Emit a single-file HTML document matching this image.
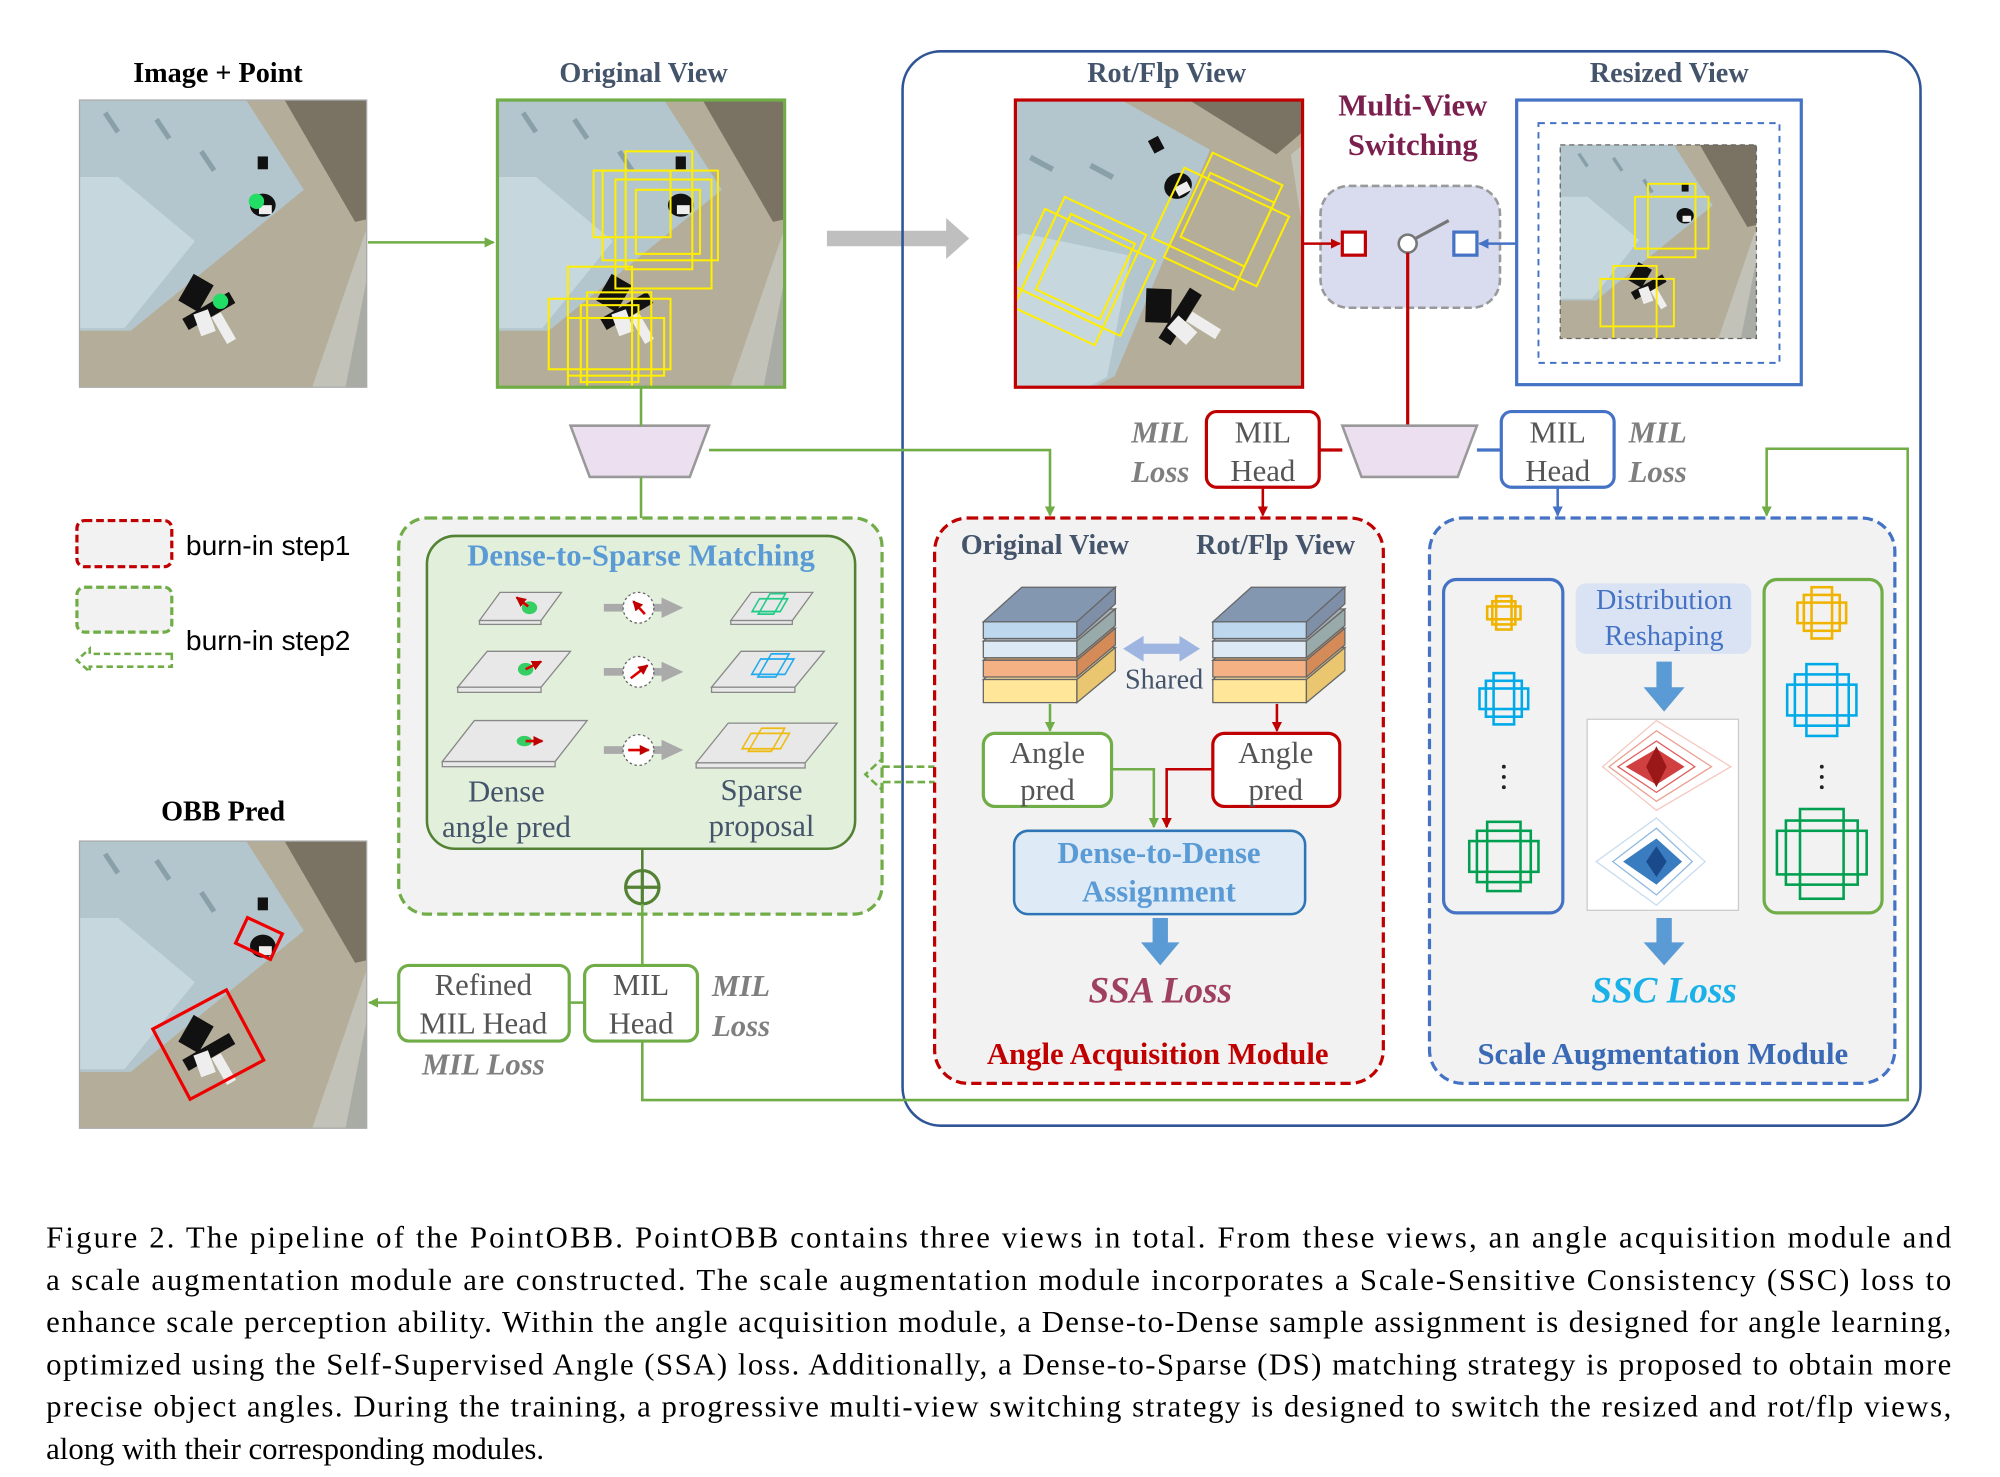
<!DOCTYPE html>
<html><head><meta charset="utf-8"><style>
html,body{margin:0;padding:0;background:#fff;}
svg{display:block;}
text{font-family:"Liberation Serif",serif;}
</style></head><body>
<svg width="2000" height="1477" viewBox="0 0 1560 1152" xmlns="http://www.w3.org/2000/svg">
<defs>
<marker id="ag" markerWidth="8" markerHeight="8" refX="7" refY="4" orient="auto" markerUnits="userSpaceOnUse"><path d="M0,0 L8,4 L0,8 z" fill="#70ad47"/></marker>
<marker id="ar" markerWidth="8" markerHeight="8" refX="7" refY="4" orient="auto" markerUnits="userSpaceOnUse"><path d="M0,0 L8,4 L0,8 z" fill="#c00000"/></marker>
<marker id="ab" markerWidth="8" markerHeight="8" refX="7" refY="4" orient="auto" markerUnits="userSpaceOnUse"><path d="M0,0 L8,4 L0,8 z" fill="#4472c4"/></marker>
<clipPath id="c224"><rect x="0" y="0" width="224" height="224"/></clipPath>
<g id="aer">
<rect x="-150" y="-150" width="524" height="524" fill="#b4ad99"/>
<polygon points="135,-150 374,-150 374,60 215,95 160,0" fill="#7a7363"/>
<polygon points="224,100 374,70 374,374 130,374" fill="#c2c2b8"/>
<polygon points="224,140 374,120 374,374 178,374" fill="#a8aca4"/>
<polygon points="-150,-150 130,-150 130,0 175,70 40,180 -150,180" fill="#b3c6cd"/>
<polygon points="-150,60 30,60 90,110 35,178 -150,178" fill="#c6d8de"/>
<line x1="20" y1="10" x2="30" y2="25" stroke="#8aa0a8" stroke-width="4"/>
<line x1="60" y1="15" x2="70" y2="30" stroke="#8aa0a8" stroke-width="4"/>
<line x1="95" y1="40" x2="105" y2="55" stroke="#8aa0a8" stroke-width="4"/>
<g fill="#111"><ellipse cx="143" cy="82" rx="10" ry="9"/><rect x="139" y="44" width="8" height="10"/><rect x="82" y="138" width="18" height="24" transform="rotate(30 90 150)"/><rect x="80" y="160" width="42" height="10" transform="rotate(-30 100 165)"/></g>
<g fill="#eee"><rect x="140" y="82" width="10" height="7"/><rect x="92" y="165" width="12" height="18" transform="rotate(-20 97 175)"/><rect x="110" y="165" width="8" height="24" transform="rotate(-30 115 180)"/></g>
</g>
</defs>

<!-- Titles -->
<g font-weight="bold" font-size="22" text-anchor="middle">
<text x="170" y="64" fill="#000">Image + Point</text>
<text x="502" y="64" fill="#44546a">Original View</text>
<text x="910" y="64" fill="#44546a">Rot/Flp View</text>
<text x="1302" y="64" fill="#44546a">Resized View</text>
<text x="174" y="640" fill="#000">OBB Pred</text>
</g>

<!-- Image 1 -->
<g transform="translate(62,78)"><g clip-path="url(#c224)"><use href="#aer"/></g>
<circle cx="138" cy="79" r="6" fill="#22dd66"/><circle cx="110" cy="157" r="6" fill="#22dd66"/></g>
<rect x="62" y="78" width="224" height="224" fill="none" stroke="#aaa" stroke-width="1"/>

<!-- Image 2 -->
<g transform="translate(388,78)"><g clip-path="url(#c224)"><use href="#aer"/>
<g fill="none" stroke="#ffee00" stroke-width="1.6">
<rect x="100" y="40" width="52" height="92"/><rect x="82" y="55" width="90" height="70"/><rect x="75" y="55" width="60" height="52"/><rect x="108" y="70" width="50" height="50"/><rect x="92" y="62" width="75" height="85"/>
<rect x="55" y="130" width="50" height="110"/><rect x="40" y="155" width="95" height="55"/><rect x="70" y="150" width="50" height="75"/><rect x="55" y="170" width="75" height="45"/><rect x="65" y="160" width="45" height="60"/>
</g></g></g>
<rect x="388" y="78" width="224" height="224" fill="none" stroke="#70ad47" stroke-width="2.5"/>
<line x1="287" y1="189" x2="385" y2="189" stroke="#70ad47" stroke-width="2" marker-end="url(#ag)"/>

<!-- gray arrow -->
<polygon points="645,180 738,180 738,170 756,186 738,202 738,192 645,192" fill="#bfbfbf"/>

<!-- big blue container -->
<rect x="704" y="40" width="794" height="838" rx="30" fill="none" stroke="#2f5597" stroke-width="2"/>

<!-- Rot/Flp image -->
<svg x="792" y="78" width="224" height="224" viewBox="0 0 224 224"><rect width="224" height="224" fill="#c9c9c4"/>
<g transform="rotate(-28 112 112) scale(1.1) translate(-10,-10)"><use href="#aer"/></g>
<g fill="none" stroke="#ffee00" stroke-width="1.6" transform="rotate(25 112 112)">
<rect x="120" y="30" width="60" height="90"/><rect x="105" y="50" width="90" height="60"/><rect x="125" y="45" width="55" height="55"/>
<rect x="30" y="110" width="70" height="95"/><rect x="20" y="125" width="95" height="65"/><rect x="40" y="120" width="55" height="65"/>
</g></svg>
<rect x="792" y="78" width="224" height="224" fill="none" stroke="#c00000" stroke-width="2.5"/>

<!-- Multi-view switching -->
<text x="1102" y="90" font-size="24" font-weight="bold" fill="#7b1f4e" text-anchor="middle">Multi-View</text>
<text x="1102" y="121" font-size="24" font-weight="bold" fill="#7b1f4e" text-anchor="middle">Switching</text>
<rect x="1030" y="145" width="140" height="95" rx="22" fill="#d9dcef" stroke="#999" stroke-width="2" stroke-dasharray="6,3"/>
<rect x="1047" y="181" width="18" height="18" fill="#fff" stroke="#c00000" stroke-width="2.5"/>
<rect x="1134" y="181" width="18" height="18" fill="#fff" stroke="#4472c4" stroke-width="2.5"/>
<circle cx="1098" cy="190" r="7" fill="#fff" stroke="#777" stroke-width="2"/>
<line x1="1104" y1="186" x2="1130" y2="172" stroke="#777" stroke-width="2.5"/>
<line x1="1017" y1="190" x2="1045" y2="190" stroke="#c00000" stroke-width="2" marker-end="url(#ar)"/>
<line x1="1182" y1="190" x2="1154" y2="190" stroke="#4472c4" stroke-width="2" marker-end="url(#ab)"/>
<line x1="1098" y1="197" x2="1098" y2="332" stroke="#c00000" stroke-width="2.5"/>

<!-- Resized view -->
<rect x="1183" y="78" width="222" height="222" fill="#fff" stroke="#4472c4" stroke-width="2.5"/>
<rect x="1200" y="96" width="188" height="187" fill="none" stroke="#4472c4" stroke-width="1.5" stroke-dasharray="5,4"/>
<svg x="1217" y="113" width="153" height="151" viewBox="0 0 224 224"><use href="#aer"/>
<g fill="none" stroke="#ffee00" stroke-width="2.2"><rect x="100" y="45" width="55" height="85"/><rect x="85" y="60" width="85" height="60"/><rect x="60" y="140" width="50" height="85"/><rect x="45" y="155" width="85" height="55"/></g></svg>
<rect x="1217" y="113" width="153" height="151" fill="none" stroke="#666" stroke-width="1" stroke-dasharray="4,3"/>

<!-- trapezoids -->
<polygon points="445,332 553,332 538,372 460,372" fill="#ece0f0" stroke="#999" stroke-width="2"/>
<polygon points="1047,332 1152,332 1137,372 1062,372" fill="#ece0f0" stroke="#999" stroke-width="2"/>
<line x1="500" y1="302" x2="500" y2="332" stroke="#70ad47" stroke-width="2"/>
<line x1="500" y1="372" x2="500" y2="418" stroke="#70ad47" stroke-width="2"/>
<polyline points="553,351 819,351 819,402" fill="none" stroke="#70ad47" stroke-width="2" marker-end="url(#ag)"/>

<!-- MIL heads top -->
<g font-size="24" text-anchor="middle">
<rect x="941" y="321" width="88" height="59" rx="8" fill="#fff" stroke="#c00000" stroke-width="2.5"/>
<text x="985" y="345" fill="#555">MIL</text><text x="985" y="375" fill="#555">Head</text>
<rect x="1171" y="321" width="88" height="59" rx="8" fill="#fff" stroke="#4472c4" stroke-width="2.5"/>
<text x="1215" y="345" fill="#555">MIL</text><text x="1215" y="375" fill="#555">Head</text>
</g>
<g font-size="24" font-style="italic" font-weight="bold" fill="#7f7f7f" text-anchor="middle">
<text x="905" y="345">MIL</text><text x="905" y="376">Loss</text>
<text x="1293" y="345">MIL</text><text x="1293" y="376">Loss</text>
<text x="578" y="777">MIL</text><text x="578" y="808">Loss</text>
<text x="377" y="838">MIL Loss</text>
</g>
<line x1="1029" y1="351" x2="1047" y2="351" stroke="#c00000" stroke-width="2.5"/>
<line x1="1152" y1="351" x2="1171" y2="351" stroke="#4472c4" stroke-width="2.5"/>
<line x1="985" y1="380" x2="985" y2="402" stroke="#c00000" stroke-width="2" marker-end="url(#ar)"/>
<line x1="1215" y1="380" x2="1215" y2="402" stroke="#4472c4" stroke-width="2" marker-end="url(#ab)"/>

<!-- long green feedback path -->
<polyline points="501,812 501,858 1488,858 1488,350 1378,350 1378,402" fill="none" stroke="#70ad47" stroke-width="2" marker-end="url(#ag)"/>

<!-- Legend -->
<rect x="60" y="406" width="74" height="36" rx="6" fill="#f2f2f2" stroke="#c00000" stroke-width="2.5" stroke-dasharray="6,3"/>
<rect x="60" y="458" width="74" height="35" rx="6" fill="#f2f2f2" stroke="#70ad47" stroke-width="2.5" stroke-dasharray="6,3"/>
<path d="M134,510 L70,510 L70,506 L60,515 L70,524 L70,520 L134,520 Z" fill="none" stroke="#70ad47" stroke-width="2" stroke-dasharray="5,3"/>
<text x="145" y="433" font-size="22" fill="#000" style="font-family:'Liberation Sans',sans-serif">burn-in step1</text>
<text x="145" y="507" font-size="22" fill="#000" style="font-family:'Liberation Sans',sans-serif">burn-in step2</text>

<!-- DSM -->
<rect x="311" y="404" width="377" height="309" rx="22" fill="#f2f2f2" stroke="#70ad47" stroke-width="2.5" stroke-dasharray="8,4"/>
<rect x="333" y="418" width="334" height="244" rx="22" fill="#e2efda" stroke="#548235" stroke-width="2"/>
<text x="500" y="441" font-size="24" font-weight="bold" fill="#5b9bd5" text-anchor="middle">Dense-to-Sparse Matching</text>
<g fill="#e8e8e8" stroke="#888" stroke-width="1">
<polygon points="374,484 390,462 438,462 422,484"/><rect x="374" y="484" width="48" height="3"/>
<polygon points="357,536 380,508 445,508 422,536"/><rect x="357" y="536" width="65" height="4"/>
<polygon points="345,594 370,562 458,562 433,594"/><rect x="345" y="594" width="88" height="4"/>
<polygon points="570,484 586,462 634,462 618,484"/><rect x="570" y="484" width="48" height="3"/>
<polygon points="555,536 578,508 643,508 620,536"/><rect x="555" y="536" width="65" height="4"/>
<polygon points="543,595 568,564 653,564 628,595"/><rect x="543" y="595" width="85" height="4"/>
</g>
<g fill="#22cc55" opacity="0.9"><ellipse cx="413" cy="474" rx="6" ry="5"/><ellipse cx="410" cy="522" rx="6" ry="5"/><ellipse cx="409" cy="578" rx="6" ry="4"/></g>
<g stroke="#d00" stroke-width="2" marker-end="url(#ar)"><line x1="412" y1="473" x2="403" y2="466"/><line x1="410" y1="522" x2="422" y2="516"/><line x1="410" y1="578" x2="423" y2="578"/></g>
<g fill="none" stroke-width="1.4">
<g stroke="#22cc88"><rect x="592" y="467" width="22" height="10" transform="skewX(-30) translate(270,0)"/><rect x="598" y="463" width="12" height="16" transform="skewX(-30) translate(270,0)"/></g>
<g stroke="#22aaee"><rect x="588" y="514" width="26" height="12" transform="skewX(-30) translate(302,0)"/><rect x="594" y="510" width="14" height="18" transform="skewX(-30) translate(302,0)"/></g>
<g stroke="#eebb11"><rect x="580" y="572" width="30" height="12" transform="skewX(-30) translate(336,0)"/><rect x="586" y="568" width="18" height="18" transform="skewX(-30) translate(336,0)"/></g>
</g>
<g>
<g fill="#aaa"><rect x="471" y="471" width="45" height="6"/><polygon points="516,466 533,474 516,482"/>
<rect x="471" y="521" width="45" height="6"/><polygon points="516,516 533,524 516,532"/>
<rect x="471" y="582" width="45" height="6"/><polygon points="516,577 533,585 516,593"/></g>
<g fill="#fff" stroke="#666" stroke-width="1" stroke-dasharray="2,2"><circle cx="498" cy="474" r="12"/><circle cx="498" cy="524" r="12"/><circle cx="498" cy="585" r="12"/></g>
<g stroke="#d00" stroke-width="2" marker-end="url(#ar)"><line x1="503" y1="479" x2="494" y2="469"/><line x1="492" y1="529" x2="505" y2="519"/><line x1="490" y1="585" x2="506" y2="585"/></g>
</g>
<g font-size="24" fill="#44546a" text-anchor="middle">
<text x="395" y="625">Dense</text><text x="395" y="653">angle pred</text>
<text x="594" y="624">Sparse</text><text x="594" y="652">proposal</text>
</g>
<line x1="501" y1="662" x2="501" y2="679" stroke="#548235" stroke-width="2"/>
<circle cx="501" cy="692" r="13" fill="none" stroke="#548235" stroke-width="2.5"/>
<line x1="488" y1="692" x2="514" y2="692" stroke="#548235" stroke-width="2.5"/><line x1="501" y1="679" x2="501" y2="705" stroke="#548235" stroke-width="2.5"/>
<line x1="501" y1="705" x2="501" y2="753" stroke="#70ad47" stroke-width="2"/>
<path d="M757,598 L688,598 L688,592 L675,604 L688,616 L688,610 L757,610 Z" fill="none" stroke="#70ad47" stroke-width="2" stroke-dasharray="6,3"/>

<!-- Angle Acquisition Module -->
<rect x="729" y="404" width="350" height="441" rx="26" fill="#f2f2f2" stroke="#c00000" stroke-width="2.5" stroke-dasharray="8,4"/>
<g font-size="22" font-weight="bold" fill="#44546a" text-anchor="middle">
<text x="815" y="432">Original View</text><text x="995" y="432">Rot/Flp View</text>
<text x="1202" y="432">Resized View</text><text x="1394" y="432">Original View</text>
</g>
<g id="stk" stroke="#666" stroke-width="1">
<polygon points="767,530 797,505 870,505 840,530" fill="#f7d792"/><rect x="767" y="530" width="73" height="18" fill="#ffe699"/><polygon points="840,530 870,505 870,523 840,548" fill="#e9c66f"/>
<polygon points="767,515 797,490 870,490 840,515" fill="#c9956a"/><rect x="767" y="515" width="73" height="13" fill="#f4b183"/><polygon points="840,515 870,490 870,503 840,528" fill="#d48b58"/>
<polygon points="767,500 797,475 870,475 840,500" fill="#a6acb3"/><rect x="767" y="500" width="73" height="13" fill="#dde9f5"/><polygon points="840,500 870,475 870,488 840,513" fill="#9aa"/>
<polygon points="767,485 797,458 870,458 840,485" fill="#8497b0"/><rect x="767" y="485" width="73" height="13" fill="#bdd7ee"/><polygon points="840,485 870,458 870,471 840,498" fill="#7f8fa8"/>
</g>
<use href="#stk" x="179"/>
<polygon points="876,506 892,496 892,502 920,502 920,496 936,506 920,516 920,510 892,510 892,516" fill="#9db5e0"/>
<text x="908" y="537" font-size="22" fill="#44546a" text-anchor="middle">Shared</text>
<line x1="819" y1="549" x2="819" y2="570" stroke="#70ad47" stroke-width="2" marker-end="url(#ag)"/>
<line x1="996" y1="549" x2="996" y2="570" stroke="#c00000" stroke-width="2" marker-end="url(#ar)"/>
<g font-size="24" fill="#555" text-anchor="middle">
<rect x="767" y="572" width="100" height="57" rx="9" fill="#fff" stroke="#70ad47" stroke-width="2.5"/>
<text x="817" y="595">Angle</text><text x="817" y="624">pred</text>
<rect x="946" y="572" width="99" height="57" rx="9" fill="#fff" stroke="#c00000" stroke-width="2.5"/>
<text x="995" y="595">Angle</text><text x="995" y="624">pred</text>
</g>
<polyline points="867,600 900,600 900,645" fill="none" stroke="#70ad47" stroke-width="2" marker-end="url(#ag)"/>
<polyline points="946,600 910,600 910,645" fill="none" stroke="#c00000" stroke-width="2" marker-end="url(#ar)"/>
<rect x="791" y="648" width="227" height="65" rx="11" fill="#deebf7" stroke="#2e75b6" stroke-width="2"/>
<text x="904" y="673" font-size="24" font-weight="bold" fill="#5b9bd5" text-anchor="middle">Dense-to-Dense</text>
<text x="904" y="703" font-size="24" font-weight="bold" fill="#5b9bd5" text-anchor="middle">Assignment</text>
<polygon points="899,716 911,716 911,735 920,735 905,753 890,735 899,735" fill="#5b9bd5"/>
<text x="905" y="782" font-size="29" font-weight="bold" font-style="italic" fill="#a04060" text-anchor="middle">SSA Loss</text>
<text x="903" y="830" font-size="24" font-weight="bold" fill="#c00000" text-anchor="middle">Angle Acquisition Module</text>

<!-- Scale Augmentation Module -->
<rect x="1115" y="404" width="363" height="441" rx="26" fill="#f2f2f2" stroke="#4472c4" stroke-width="2.5" stroke-dasharray="8,4"/>
<rect x="1126" y="452" width="93" height="260" rx="10" fill="none" stroke="#4472c4" stroke-width="2.5"/>
<rect x="1376" y="452" width="92" height="260" rx="10" fill="none" stroke="#70ad47" stroke-width="2.5"/>
<g fill="none" stroke-width="2">
<g stroke="#f0b400"><rect x="1164" y="469" width="18" height="18"/><rect x="1160" y="473" width="26" height="10"/><rect x="1167" y="465" width="12" height="26"/></g>
<g stroke="#00aae8"><rect x="1159" y="531" width="28" height="28"/><rect x="1154" y="537" width="38" height="16"/><rect x="1165" y="525" width="16" height="40"/></g>
<g stroke="#00a050"><rect x="1152" y="648" width="42" height="40"/><rect x="1146" y="656" width="54" height="24"/><rect x="1160" y="641" width="26" height="54"/></g>
<g stroke="#f0b400"><rect x="1407" y="464" width="28" height="28"/><rect x="1402" y="470" width="38" height="16"/><rect x="1413" y="458" width="16" height="40"/></g>
<g stroke="#00aae8"><rect x="1400" y="526" width="42" height="40"/><rect x="1394" y="534" width="54" height="24"/><rect x="1409" y="518" width="24" height="56"/></g>
<g stroke="#00a050"><rect x="1393" y="640" width="56" height="50"/><rect x="1386" y="648" width="70" height="34"/><rect x="1404" y="631" width="34" height="70"/></g>
</g>
<g fill="#222"><circle cx="1173" cy="598" r="1.5"/><circle cx="1173" cy="606" r="1.5"/><circle cx="1173" cy="614" r="1.5"/><circle cx="1421" cy="598" r="1.5"/><circle cx="1421" cy="606" r="1.5"/><circle cx="1421" cy="614" r="1.5"/></g>
<rect x="1229" y="455" width="137" height="55" rx="8" fill="#dae3f3"/>
<text x="1298" y="475" font-size="22" fill="#4472c4" text-anchor="middle">Distribution</text>
<text x="1298" y="503" font-size="22" fill="#4472c4" text-anchor="middle">Reshaping</text>
<polygon points="1292,516 1304,516 1304,536 1314,536 1298,555 1282,536 1292,536" fill="#5b9bd5"/>
<rect x="1238" y="561" width="118" height="149" fill="#fff" stroke="#ccc" stroke-width="1"/>
<g fill="none" stroke-width="1">
<g stroke="#e06060"><polygon points="1292,562 1350,598 1292,632 1250,598" stroke="#f4c8c0"/><polygon points="1292,570 1335,598 1292,625 1255,598" stroke="#eaa090"/><polygon points="1292,578 1322,598 1292,618 1262,598"/></g>
<g stroke="#5090d0"><polygon points="1292,638 1330,672 1292,706 1245,672" stroke="#c8dcf0"/><polygon points="1292,646 1320,672 1292,698 1258,672" stroke="#90b8e0"/></g>
</g>
<polygon points="1292,584 1314,598 1292,612 1268,598" fill="#d04040"/>
<polygon points="1292,582 1300,598 1292,614 1284,598" fill="#9a1818"/>
<polygon points="1292,654 1312,672 1292,690 1266,672" fill="#3a7cc0"/>
<polygon points="1292,660 1300,672 1292,684 1284,672" fill="#1a4a8a"/>
<polygon points="1292,716 1304,716 1304,735 1314,735 1298,753 1282,735 1292,735" fill="#5b9bd5"/>
<text x="1298" y="782" font-size="29" font-weight="bold" font-style="italic" fill="#1ab0e8" text-anchor="middle">SSC Loss</text>
<text x="1297" y="830" font-size="24" font-weight="bold" fill="#3a6ab5" text-anchor="middle">Scale Augmentation Module</text>

<!-- OBB Pred -->
<g transform="translate(62,656)"><g clip-path="url(#c224)"><use href="#aer"/></g>
<rect x="125" y="65" width="30" height="22" fill="none" stroke="#e00" stroke-width="2.5" transform="rotate(25 140 76)"/>
<rect x="68" y="128" width="65" height="62" fill="none" stroke="#e00" stroke-width="2.5" transform="rotate(-28 100 159)"/></g>
<rect x="62" y="656" width="224" height="224" fill="none" stroke="#aaa" stroke-width="1"/>

<g font-size="24" fill="#555" text-anchor="middle">
<rect x="311" y="753" width="133" height="59" rx="8" fill="#fff" stroke="#70ad47" stroke-width="2.5"/>
<text x="377" y="776">Refined</text><text x="377" y="806">MIL Head</text>
<rect x="456" y="753" width="88" height="59" rx="8" fill="#fff" stroke="#70ad47" stroke-width="2.5"/>
<text x="500" y="776">MIL</text><text x="500" y="806">Head</text>
</g>
<line x1="456" y1="782" x2="444" y2="782" stroke="#70ad47" stroke-width="2"/>
<line x1="311" y1="782" x2="288" y2="782" stroke="#70ad47" stroke-width="2" marker-end="url(#ag)"/>

<!-- Caption -->
<g font-size="24" fill="#000">
<text x="36" y="973" textLength="1486" lengthAdjust="spacing">Figure 2.  The pipeline of the PointOBB. PointOBB contains three views in total.  From these views, an angle acquisition module and</text>
<text x="36" y="1006" textLength="1486" lengthAdjust="spacing">a scale augmentation module are constructed. The scale augmentation module incorporates a Scale-Sensitive Consistency (SSC) loss to</text>
<text x="36" y="1039" textLength="1486" lengthAdjust="spacing">enhance scale perception ability. Within the angle acquisition module, a Dense-to-Dense sample assignment is designed for angle learning,</text>
<text x="36" y="1072" textLength="1486" lengthAdjust="spacing">optimized using the Self-Supervised Angle (SSA) loss. Additionally, a Dense-to-Sparse (DS) matching strategy is proposed to obtain more</text>
<text x="36" y="1105" textLength="1486" lengthAdjust="spacing">precise object angles. During the training, a progressive multi-view switching strategy is designed to switch the resized and rot/flp views,</text>
<text x="36" y="1138">along with their corresponding modules.</text>
</g>
</svg>
</body></html>
